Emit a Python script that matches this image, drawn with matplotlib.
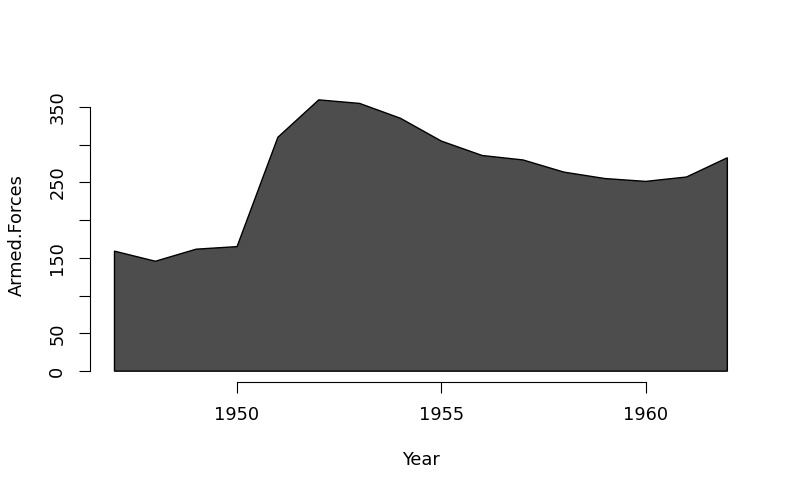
import numpy as np
import matplotlib.pyplot as plt

# Longley data: Armed.Forces by Year
years = [1947, 1948, 1949, 1950, 1951, 1952, 1953, 1954,
         1955, 1956, 1957, 1958, 1959, 1960, 1961, 1962]
armed_forces = [159.0, 145.6, 161.6, 165.0, 309.9, 359.4, 354.7, 335.0,
                304.8, 285.7, 279.8, 263.7, 255.2, 251.4, 257.2, 282.7]
x_ticks = [1950, 1955, 1960]
y_ticks = [0, 50, 150, 250, 350]
y_ticks_minor = [100, 200, 300]

fig = plt.figure(figsize=(7.99, 4.94), dpi=100)
ax = fig.add_axes([0.1126, 0.2267, 0.941 - 0.1126, 0.8198 - 0.2267])

x = np.array(years)
y = np.array(armed_forces)
# closed polygon down to zero, like R's polygon()
ax.fill(np.r_[x[0], x, x[-1]], np.r_[0, y, 0],
        facecolor="#4d4d4d", edgecolor="black", lw=1)

# R-style 4% axis extension
xr = x.max() - x.min()
ax.set_xlim(x.min() - 0.04 * xr, x.max() + 0.04 * xr)
yr = y.max() - 0
ax.set_ylim(0 - 0.04 * yr, y.max() + 0.04 * yr)

for s in ["top", "right"]:
    ax.spines[s].set_visible(False)
ax.spines["left"].set_bounds(0, 350)
ax.spines["bottom"].set_bounds(1950, 1960)

all_y = sorted(y_ticks + y_ticks_minor)
ax.set_xticks(x_ticks)
ax.set_yticks(all_y)
ax.set_yticklabels([str(v) if v in y_ticks else "" for v in all_y],
                   rotation=90, va="center")
ax.tick_params(axis="both", length=8, width=0.8, labelsize=12.75)
ax.tick_params(axis="x", pad=9)
ax.tick_params(axis="y", pad=9)

ax.set_xlabel("Year", fontsize=12.75, labelpad=19.5)
ax.set_ylabel("Armed.Forces", fontsize=12.75, labelpad=16.5)

fig.savefig("out.png", dpi=100)
